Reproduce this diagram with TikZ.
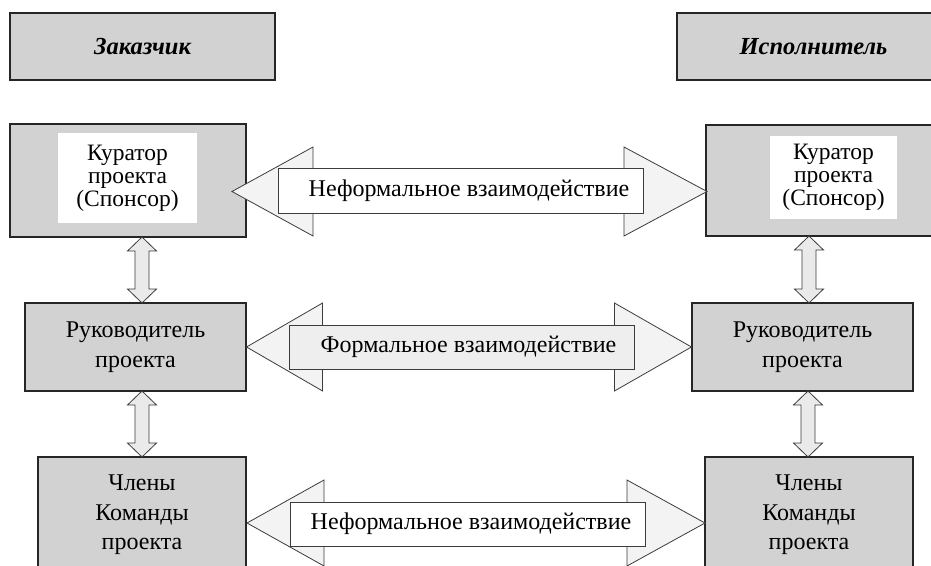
\documentclass[tikz,border=0pt]{standalone}
\usepackage{fontspec}
\setmainfont{Liberation Serif}
\usetikzlibrary{calc}
\definecolor{boxgray}{RGB}{210,210,210}
\definecolor{headgray}{RGB}{243,243,243}
\definecolor{shaftgray}{RGB}{238,238,238}
\definecolor{vgray}{RGB}{234,234,234}
\definecolor{edgegray}{RGB}{60,60,60}
\newcommand\vdarr[2]{%
  \draw[varrow] let \p1=(#1), \p2=(#2) in
    (\x1,\y1) -- (\x1+14.5pt,\y1-14pt) -- (\x1+7pt,\y1-14pt) -- (\x1+7pt,\y2+14pt)
    -- (\x1+14.5pt,\y2+14pt) -- (\x1,\y2) -- (\x1-14.5pt,\y2+14pt) -- (\x1-7pt,\y2+14pt)
    -- (\x1-7pt,\y1-14pt) -- (\x1-14.5pt,\y1-14pt) -- cycle;}
\newcommand\hheads[5]{%
  \draw[headstyle] (#1) -- ++(#3,-#5) -- ++(0,2*#5) -- cycle;
  \draw[headstyle] (#2) -- ++(-#4,-#5) -- ++(0,2*#5) -- cycle;}
\begin{document}
\begin{tikzpicture}[x=1pt,y=-1pt,
  txt/.style={font=\fontsize{24}{29.5}\selectfont},
  box/.style={draw=black!85, line width=1.1pt, fill=boxgray, inner sep=0pt, align=center, txt},
  topbox/.style={box, minimum height=67pt, font=\fontsize{24.5}{28}\selectfont\bfseries\itshape},
  whitebox/.style={fill=white, inner sep=0pt, align=center, font=\fontsize{23.5}{23}\selectfont},
  headstyle/.style={draw=edgegray, line width=0.8pt, fill=headgray, line join=miter},
  shaft/.style={draw=edgegray, line width=0.9pt, inner sep=0pt, minimum height=44pt},
  varrow/.style={draw=edgegray, line width=0.8pt, fill=vgray, line join=miter},
  lbl/.style={txt, inner sep=0pt}]
\useasboundingbox (0,0) rectangle (931,565);
\clip (0,0) rectangle (931,565);
\fill[white] (0,0) rectangle (931,565);

% top labels
\node[topbox, minimum width=265pt] (zak) at (142.5,46.5) {Заказчик};
\node[topbox, minimum width=273pt] (isp) at (813.5,46.5) {Исполнитель};

% kurator boxes
\node[box, minimum width=236pt, minimum height=113pt] (kurL) at (128,180.5) {};
\node[whitebox, minimum width=139pt, minimum height=90pt] (kurLt) at (127.5,178) {Куратор\\проекта\\(Спонсор)};
\node[box, minimum width=255pt, minimum height=111pt] (kurR) at (833.5,180.5) {};
\node[whitebox, minimum width=127pt, minimum height=83pt] (kurRt) at (833.5,177.5) {Куратор\\проекта\\(Спонсор)};

% manager boxes
\node[box, minimum width=221pt, minimum height=88pt] (rukL) at (135.5,347) {Руководитель\\проекта};
\node[box, minimum width=221pt, minimum height=88pt] (rukR) at (802.5,347) {Руководитель\\проекта};

% team boxes
\node[box, minimum width=208pt, minimum height=116pt] (chlL) at (142,515) {Члены\\Команды\\проекта};
\node[box, minimum width=208pt, minimum height=116pt] (chlR) at (809,515) {Члены\\Команды\\проекта};

% row 1 informal
\coordinate (r1L) at (232,191.5);
\coordinate (r1R) at (707,191.5);
\hheads{r1L}{r1R}{81}{83}{44.5}
\node[shaft, fill=white, minimum width=365pt, minimum height=45pt] (s1) at (460.5,190.5) {};
\node[lbl] (l1) at (469,190.5) {Неформальное взаимодействие};

% row 2 formal
\hheads{rukL.east}{rukR.west}{76}{77}{44}
\node[shaft, fill=shaftgray, minimum width=345pt] (s2) at (461.5,347) {};
\node[lbl] (l2) at (468.5,347) {Формальное взаимодействие};

% row 3 informal
\coordinate (r3L) at (247,523);
\coordinate (r3R) at (705,523);
\hheads{r3L}{r3R}{77}{78}{43}
\node[shaft, fill=white, minimum width=355pt] (s3) at (467.5,524) {};
\node[lbl] (l3) at (471,524) {Неформальное взаимодействие};

% vertical arrows
\coordinate (v1a) at (142,237);
\coordinate (v1b) at (142,303);
\coordinate (v2a) at (142,391);
\coordinate (v2b) at (142,457);
\coordinate (v3a) at (809,236);
\coordinate (v3b) at (809,303);
\coordinate (v4a) at (808,391);
\coordinate (v4b) at (808,457);
\vdarr{v1a}{v1b}
\vdarr{v2a}{v2b}
\vdarr{v3a}{v3b}
\vdarr{v4a}{v4b}
\end{tikzpicture}
\end{document}
